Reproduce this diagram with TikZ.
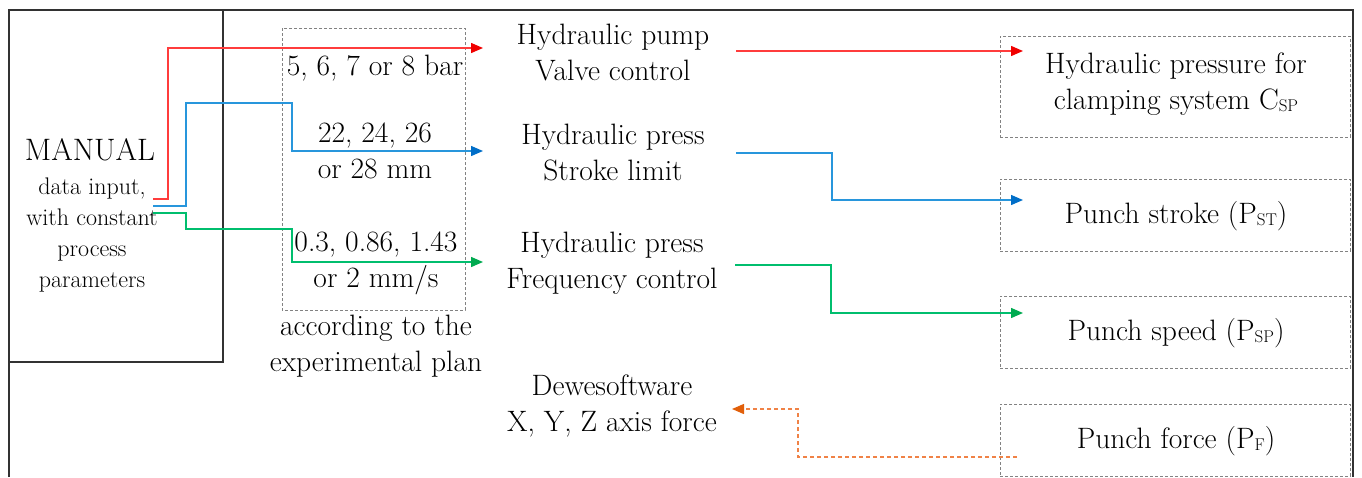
\documentclass[tikz,border=0pt]{standalone}
\usetikzlibrary{arrows.meta}
\definecolor{cred}{RGB}{255,60,60}
\definecolor{credtip}{RGB}{240,0,0}
\definecolor{cblue}{RGB}{40,150,220}
\definecolor{cbluetip}{RGB}{0,110,200}
\definecolor{cgreen}{RGB}{0,190,110}
\definecolor{cgreentip}{RGB}{0,170,80}
\definecolor{corange}{RGB}{240,130,70}
\definecolor{corangetip}{RGB}{225,95,10}
\definecolor{cframe}{RGB}{50,50,50}
\definecolor{cdash}{RGB}{130,130,130}
\newcommand{\lowsub}[1]{\raisebox{-0.2ex}{\fontsize{17}{17}\selectfont #1}}
\tikzset{
  frameline/.style={draw=cframe,line width=1.2pt},
  dashbox/.style={draw=cdash,line width=0.9pt,dash pattern=on 3pt off 2pt},
  bigtxt/.style={font=\fontsize{29.5}{36}\selectfont,align=center,inner sep=0pt},
  smalltxt/.style={font=\fontsize{24}{31}\selectfont,align=center,inner sep=0pt},
  conn/.style={line width=1.4pt,-{Triangle[length=12pt,width=10pt,color=#1]}},
}
\begin{document}
\begin{tikzpicture}[x=1pt,y=-1pt]
\useasboundingbox (0,0) rectangle (1362,477);
% outer frame and manual box
\draw[frameline] (9,477) -- (9,10) -- (1353,10) -- (1353,477);
\draw[frameline] (223,10) -- (223,362) -- (9,362);
% dashed parameter box
\draw[dashbox] (282,28) rectangle (465,310);
% right dashed boxes
\node[dashbox,minimum width=350pt,minimum height=101pt,anchor=north west,inner sep=0pt] (b1) at (1000,36) {};
\node[dashbox,minimum width=350pt,minimum height=72pt,anchor=north west,inner sep=0pt] (b2) at (1000,179) {};
\node[dashbox,minimum width=350pt,minimum height=72pt,anchor=north west,inner sep=0pt] (b3) at (1000,296) {};
\node[dashbox,minimum width=350pt,minimum height=72pt,anchor=north west,inner sep=0pt] (b4) at (1000,404) {};
% box texts
\node[bigtxt] (t1) at (1176,84) {Hydraulic pressure for\\clamping system C\lowsub{SP}};
\node[bigtxt] (t2) at (1176,216) {Punch stroke (P\lowsub{ST})};
\node[bigtxt] (t3) at (1176,333) {Punch speed (P\lowsub{SP})};
\node[bigtxt] (t4) at (1176,441) {Punch force (P\lowsub{F})};
% manual texts
\node[font=\fontsize{31}{34}\selectfont,inner sep=0pt] (man) at (90,150) {MANUAL};
\node[smalltxt] (manp) at (92,235) {data input,\\with constant\\process\\parameters};
% parameter texts
\node[bigtxt] (p1) at (375,68) {5, 6, 7 or 8 bar};
\node[bigtxt] (p2) at (375,151) {22, 24, 26\\or 28 mm};
\node[bigtxt] (p3) at (376,263) {0.3, 0.86, 1.43\\or 2 mm/s};
\node[bigtxt] (p4) at (376,346) {according to the\\experimental plan};
% middle texts
\node[bigtxt] (m1) at (613,52) {Hydraulic pump\\Valve control};
\node[bigtxt] (m2) at (613,152) {Hydraulic press\\Stroke limit};
\node[bigtxt] (m3) at (612,263) {Hydraulic press\\Frequency control};
\node[bigtxt] (m4) at (612,406) {Dewesoftware\\X, Y, Z axis force};
% connector coordinates
\coordinate (sr) at (153,199);
\coordinate (sb) at (153,206);
\coordinate (sg) at (153,213);
\coordinate (er) at (483,48);
\coordinate (eb) at (483,151);
\coordinate (eg) at (483,262);
\coordinate (r1) at (736,51);
\coordinate (r2) at (736,153);
\coordinate (r3) at (735,265);
\coordinate (e1) at (1023,51);
\coordinate (e2) at (1023,200);
\coordinate (e3) at (1023,313);
\coordinate (f0) at (1017,457);
\coordinate (f1) at (732,409);
% input connectors
\draw[conn=credtip,draw=cred] (sr) -| (168,48) -- (er);
\draw[conn=cbluetip,draw=cblue] (sb) -| (186,103) -| (292,151) -- (eb);
\draw[conn=cgreentip,draw=cgreen] (sg) -| (186,229) -| (292,262) -- (eg);
% output connectors
\draw[conn=credtip,draw=cred] (r1) -- (e1);
\draw[conn=cbluetip,draw=cblue] (r2) -| (832,200) -- (e2);
\draw[conn=cgreentip,draw=cgreen] (r3) -| (831,313) -- (e3);
\draw[conn=corangetip,draw=corange,dash pattern=on 4pt off 3pt] (f0) -| (798,409) -- (f1);
\end{tikzpicture}
\end{document}
